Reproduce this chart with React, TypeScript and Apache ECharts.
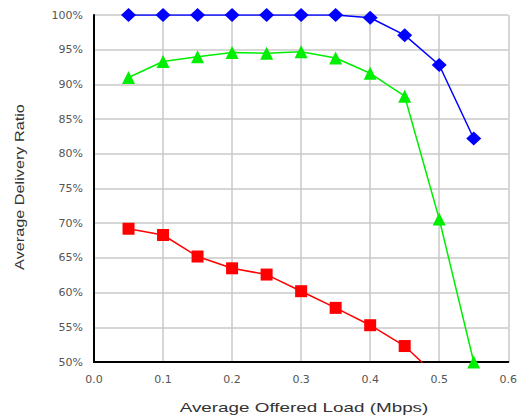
import React, { useEffect, useRef } from "react";
import * as echarts from "echarts";

const loads = [0.05, 0.1, 0.15, 0.2, 0.25, 0.3, 0.35, 0.4, 0.45, 0.5, 0.55];
const blueRatio = [100, 100, 100, 100, 100, 100, 100, 99.6, 97.1, 92.8, 82.2];
const greenRatio = [91.0, 93.3, 94.0, 94.6, 94.5, 94.7, 93.8, 91.6, 88.3, 70.6, 50.0];
const redRatio = [69.2, 68.3, 65.2, 63.5, 62.6, 60.2, 57.8, 55.3, 52.3, 47.6];

const xTicks = [0, 0.1, 0.2, 0.3, 0.4, 0.5, 0.6];
const yMin = 50;
const yMax = 100;

const xTitle = "Average Offered Load (Mbps)";
const yTitle = "Average Delivery Ratio";

const tickFont = "DejaVu Sans, Verdana, sans-serif";
const titleFont = "Liberation Sans, Arial, sans-serif";

const pairs = (vals: number[]) => vals.map((v, i) => [loads[i], v]);

export default function App() {
  const ref = useRef<HTMLDivElement>(null);

  useEffect(() => {
    if (!ref.current) return;
    const chart = echarts.init(ref.current, null, { renderer: "svg" });
    const lineSeries = (data: number[][], color: string, symbol: string, size: number | number[]) => ({
      type: "line",
      data,
      symbol,
      symbolSize: size,
      clip: true,
      lineStyle: { color, width: 1.5 },
      itemStyle: { color },
      z: 3,
    });
    chart.setOption({
      animation: false,
      backgroundColor: "#ffffff",
      grid: { left: 94, right: 10, top: 15, bottom: 55, show: false },
      xAxis: {
        type: "value",
        min: xTicks[0],
        max: xTicks[xTicks.length - 1],
        interval: 0.1,
        axisLine: { show: true, onZero: false, lineStyle: { color: "#000", width: 2 } },
        axisTick: { show: false },
        axisLabel: {
          fontFamily: tickFont,
          fontSize: 11,
          color: "#555",
          margin: 12,
          formatter: (v: number) => v.toFixed(1),
        },
        splitLine: { show: true, lineStyle: { color: "#c8c8c8", width: 1.5 } },
      },
      yAxis: {
        type: "value",
        min: yMin,
        max: yMax,
        interval: 5,
        axisLine: { show: true, onZero: false, lineStyle: { color: "#000", width: 2 } },
        axisTick: { show: false },
        axisLabel: {
          fontFamily: tickFont,
          fontSize: 11,
          color: "#555",
          margin: 11,
          formatter: (v: number) => `${v}%`,
        },
        splitLine: { show: true, lineStyle: { color: "#c8c8c8", width: 1.5 } },
      },
      graphic: [
        {
          type: "text",
          x: 304,
          y: 407,
          scaleX: 1.45,
          style: {
            text: xTitle,
            fontFamily: titleFont,
            fontSize: 13,
            fill: "#333",
            align: "center",
            verticalAlign: "middle",
          },
        },
        {
          type: "text",
          x: 20,
          y: 187,
          rotation: Math.PI / 2,
          scaleX: 1.25,
          style: {
            text: yTitle,
            fontFamily: titleFont,
            fontSize: 13,
            fill: "#333",
            align: "center",
            verticalAlign: "middle",
          },
        },
      ],
      series: [
        lineSeries(pairs(blueRatio), "#0000ff", "diamond", [15, 14]),
        lineSeries(pairs(greenRatio), "#00ee00", "triangle", 13),
        lineSeries(pairs(redRatio), "#ff0000", "rect", 12),
      ],
    });
    return () => chart.dispose();
  }, []);

  return (
    <div
      ref={ref}
      style={{ position: "absolute", left: 0, top: 0, width: 520, height: 417 }}
    />
  );
}
